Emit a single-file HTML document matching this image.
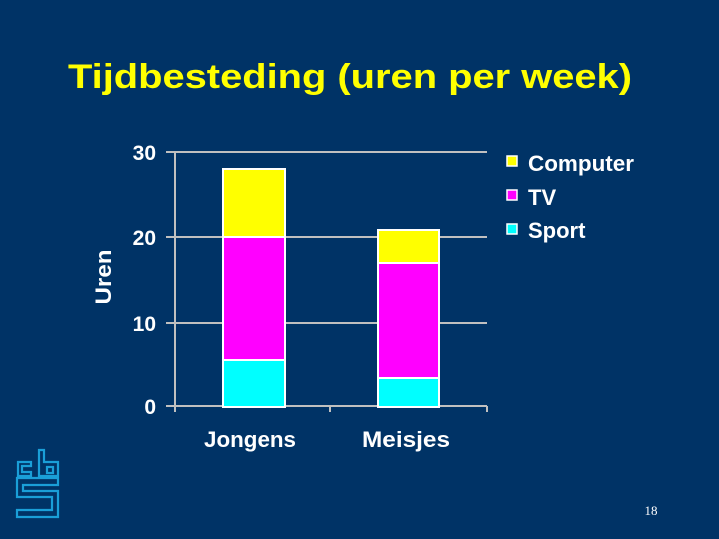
<!DOCTYPE html>
<html><head><meta charset="utf-8"><style>
html,body{margin:0;padding:0;background:#003366;}
svg{display:block;}
</style></head><body>
<svg width="719" height="539" xmlns="http://www.w3.org/2000/svg" font-family="Liberation Sans, sans-serif">
<rect width="719" height="539" fill="#003366"/>
<text x="350" y="88" text-anchor="middle" font-size="34" font-weight="bold" fill="#ffff00" textLength="564" lengthAdjust="spacingAndGlyphs">Tijdbesteding (uren per week)</text>
<g stroke="#c0c0c0" stroke-width="2">
<line x1="166" y1="152" x2="487" y2="152"/>
<line x1="166" y1="237" x2="487" y2="237"/>
<line x1="166" y1="323" x2="487" y2="323"/>
<line x1="166" y1="406" x2="487" y2="406"/>
<line x1="175" y1="152" x2="175" y2="412"/>
<line x1="330" y1="406" x2="330" y2="412"/>
<line x1="487" y1="406" x2="487" y2="412"/>
</g>
<g stroke="#ffffff" stroke-width="2">
<rect x="223" y="360" width="62" height="47" fill="#00ffff"/>
<rect x="223" y="237" width="62" height="123" fill="#ff00ff"/>
<rect x="223" y="169" width="62" height="68" fill="#ffff00"/>
<rect x="378" y="378" width="61" height="29" fill="#00ffff"/>
<rect x="378" y="263" width="61" height="115" fill="#ff00ff"/>
<rect x="378" y="230" width="61" height="33" fill="#ffff00"/>
</g>
<g fill="#ffffff" font-weight="bold" font-size="21" text-anchor="end">
<text x="156" y="160">30</text>
<text x="156" y="245">20</text>
<text x="156" y="331">10</text>
<text x="156" y="414">0</text>
</g>
<text transform="translate(111,277) rotate(-90)" text-anchor="middle" fill="#fff" font-weight="bold" font-size="22" textLength="55" lengthAdjust="spacingAndGlyphs">Uren</text>
<g fill="#fff" font-weight="bold" font-size="22" text-anchor="middle">
<text x="250" y="447" textLength="92" lengthAdjust="spacingAndGlyphs">Jongens</text>
<text x="406" y="447" textLength="88" lengthAdjust="spacingAndGlyphs">Meisjes</text>
</g>
<g stroke="#fff" stroke-width="1.5">
<rect x="507" y="156" width="10" height="10" fill="#ffff00"/>
<rect x="507" y="190" width="10" height="10" fill="#ff00ff"/>
<rect x="507" y="224" width="10" height="10" fill="#00ffff"/>
</g>
<g fill="#fff" font-weight="bold" font-size="22">
<text x="528" y="171" textLength="106" lengthAdjust="spacingAndGlyphs">Computer</text>
<text x="528" y="205">TV</text>
<text x="528" y="238">Sport</text>
</g>
<g fill="none" stroke="#1a9fd8" stroke-width="2.2">
<path d="M31,462 H18 V476 H31 V472 H22 V466 H31 Z"/>
<path d="M39,450 H44 V462 H58 V476 H39 Z"/>
<rect x="47" y="467" width="6" height="6"/>
<path d="M17,478 H58 V485 H23 V491 H58 V517 H17 V510 H52 V497 H17 Z"/>
</g>
<text x="651" y="515" text-anchor="middle" font-family="Liberation Serif, serif" font-size="13" fill="#fff">18</text>
</svg>
</body></html>
